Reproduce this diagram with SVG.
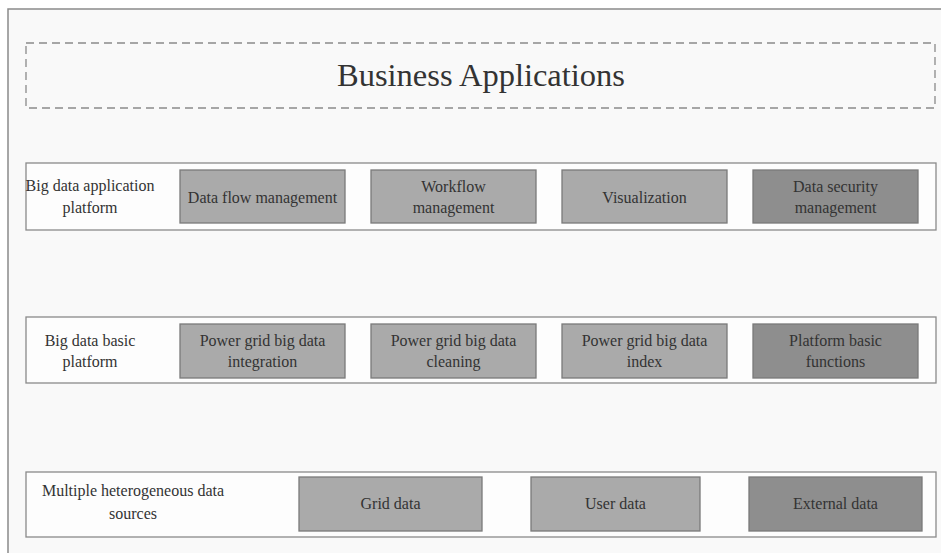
<svg xmlns="http://www.w3.org/2000/svg" width="941" height="553" viewBox="0 0 941 553">
<style>
text{font-family:"Liberation Serif","Times New Roman",serif;fill:#333;text-anchor:middle}
.row{fill:#fdfdfd;stroke:#8a8a8a;stroke-width:1.3}
.lb{fill:#aaaaaa;stroke:#7a7a7a;stroke-width:1.3}
.db{fill:#8e8e8e;stroke:#7a7a7a;stroke-width:1.3}
.t{font-size:16px}
</style>
<rect x="0" y="0" width="941" height="553" fill="#ffffff"/>
<rect x="8" y="9" width="945" height="560" fill="#f9f9f9" stroke="#8a8a8a" stroke-width="1.5"/>
<g id="business">
<rect x="26" y="43" width="909" height="65" fill="none" stroke="#8a8a8a" stroke-width="1.3" stroke-dasharray="8,5"/>
<text x="481" y="86" font-size="32.5">Business Applications</text>
</g>
<g id="app-platform">
<rect class="row" x="26" y="163" width="910" height="67"/>
<text class="t" x="90" y="191">Big data application</text>
<text class="t" x="90" y="213">platform</text>
</g>
<g id="data-flow"><rect class="lb" x="180" y="170" width="165" height="53"/><text class="t" x="262.5" y="203">Data flow management</text></g>
<g id="workflow"><rect class="lb" x="371" y="170" width="165" height="53"/><text class="t" x="453.5" y="192">Workflow</text><text class="t" x="453.5" y="213">management</text></g>
<g id="visualization"><rect class="lb" x="562" y="170" width="165" height="53"/><text class="t" x="644.5" y="203">Visualization</text></g>
<g id="data-security"><rect class="db" x="753" y="170" width="165" height="53"/><text class="t" x="835.5" y="192">Data security</text><text class="t" x="835.5" y="213">management</text></g>
<g id="basic-platform">
<rect class="row" x="26" y="317" width="910" height="66"/>
<text class="t" x="90" y="346">Big data basic</text>
<text class="t" x="90" y="367">platform</text>
</g>
<g id="integration"><rect class="lb" x="180" y="324" width="165" height="54"/><text class="t" x="262.5" y="346">Power grid big data</text><text class="t" x="262.5" y="367">integration</text></g>
<g id="cleaning"><rect class="lb" x="371" y="324" width="165" height="54"/><text class="t" x="453.5" y="346">Power grid big data</text><text class="t" x="453.5" y="367">cleaning</text></g>
<g id="index"><rect class="lb" x="562" y="324" width="165" height="54"/><text class="t" x="644.5" y="346">Power grid big data</text><text class="t" x="644.5" y="367">index</text></g>
<g id="basic-functions"><rect class="db" x="753" y="324" width="165" height="54"/><text class="t" x="835.5" y="346">Platform basic</text><text class="t" x="835.5" y="367">functions</text></g>
<g id="sources">
<rect class="row" x="26" y="472" width="910" height="65"/>
<text class="t" x="133" y="496">Multiple heterogeneous data</text>
<text class="t" x="133" y="519">sources</text>
</g>
<g id="grid-data"><rect class="lb" x="299" y="477" width="183" height="54"/><text class="t" x="390.5" y="509">Grid data</text></g>
<g id="user-data"><rect class="lb" x="531" y="477" width="169" height="54"/><text class="t" x="615.5" y="509">User data</text></g>
<g id="external-data"><rect class="db" x="749" y="477" width="173" height="54"/><text class="t" x="835.5" y="509">External data</text></g>
<g id="connectors"></g>
</svg>
